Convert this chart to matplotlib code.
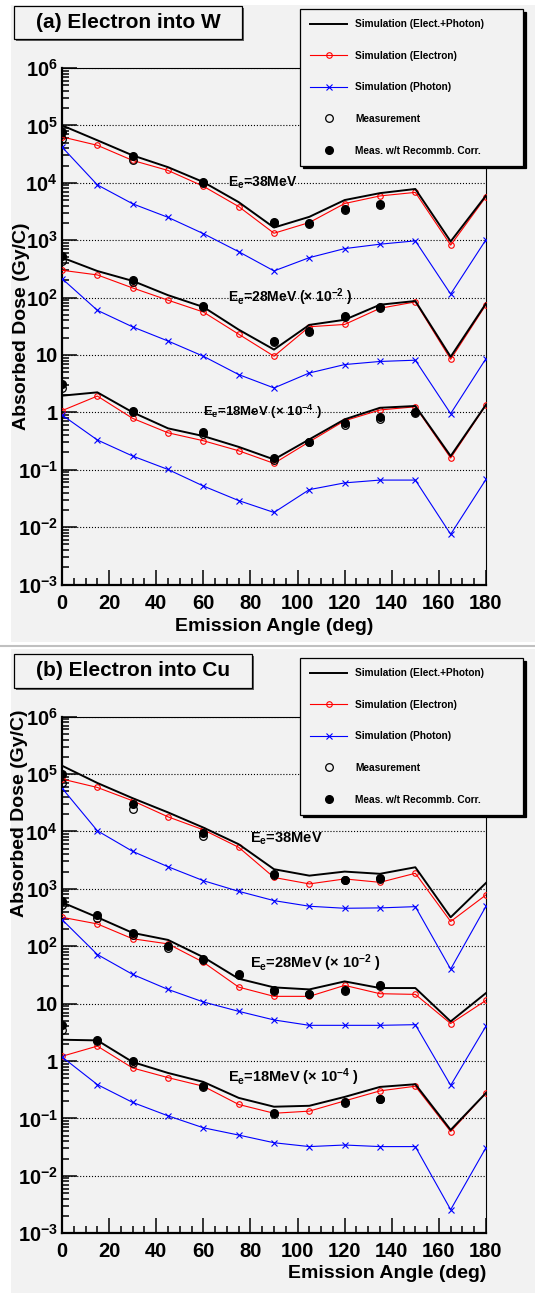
import matplotlib
matplotlib.use("Agg")
import matplotlib.pyplot as plt
from matplotlib.patches import Rectangle
from matplotlib.ticker import FixedLocator, FixedFormatter, LogLocator, MultipleLocator, NullFormatter

plt.rcParams['font.family'] = 'Liberation Sans'
plt.rcParams['font.weight'] = 'bold'
plt.rcParams['mathtext.fontset'] = 'custom'
plt.rcParams['mathtext.rm'] = 'Liberation Sans:bold'
plt.rcParams['mathtext.bf'] = 'Liberation Sans:bold'
plt.rcParams['mathtext.it'] = 'Liberation Sans:bold'
plt.rcParams['mathtext.default'] = 'bf'

# emission angles (deg)
angles = [0, 15, 30, 45, 60, 75, 90, 105, 120, 135, 150, 165, 180]

# ---- (a) electron into W ----
w38_total = [1.0e5, 5.5e4, 3.0e4, 1.87e4, 1.03e4, 4.6e3, 1.66e3, 2.55e3, 5.0e3, 6.6e3, 7.8e3, 950, 6.0e3]
w38_elec = [6.3e4, 4.5e4, 2.45e4, 1.64e4, 8.7e3, 3.85e3, 1.32e3, 2.03e3, 4.35e3, 5.9e3, 6.8e3, 820, 5.7e3]
w38_phot = [4.2e4, 9.2e3, 4.3e3, 2.5e3, 1.3e3, 630, 291, 496, 713, 851, 973, 115, 1.02e3]
w38_meas_ang = [0, 30, 60, 90, 105, 120, 135]
w38_meas = [5.8e4, 2.45e4, 9.8e3, 2.0e3, 1.95e3, 3.35e3, 4.1e3]
w38_corr = [7.6e4, 2.9e4, 1.02e4, 2.1e3, 2.03e3, 3.5e3, 4.25e3]

w28_total = [498, 290, 195, 110, 68.5, 27.6, 12.4, 33.4, 41, 75, 87, 9.3, 79]
w28_elec = [299, 248, 147, 90, 56, 23, 9.5, 31, 34, 65, 84, 8.4, 75]
w28_phot = [214, 60, 30.8, 17.5, 9.5, 4.55, 2.66, 4.85, 6.8, 7.7, 8.1, 0.95, 8.65]
w28_meas_ang = [0, 30, 60, 90, 105, 120, 135]
w28_meas = [434, 190, 68, 16.5, 25, 45, 65]
w28_corr = [525, 200, 71, 17.5, 26, 48, 68]

w18_total = [1.95, 2.23, 1.0, 0.526, 0.386, 0.25, 0.151, 0.338, 0.755, 1.2, 1.29, 0.173, 1.36]
w18_elec = [1.07, 1.92, 0.785, 0.44, 0.32, 0.214, 0.129, 0.307, 0.714, 1.1, 1.25, 0.16, 1.34]
w18_phot = [0.90, 0.33, 0.173, 0.101, 0.052, 0.029, 0.018, 0.045, 0.059, 0.066, 0.066, 0.0075, 0.068]
w18_meas_ang = [0, 30, 60, 90, 105, 120, 135, 150]
w18_meas = [2.7, 1.0, 0.42, 0.15, 0.30, 0.60, 0.78, 0.97]
w18_corr = [3.1, 1.07, 0.45, 0.157, 0.31, 0.64, 0.82, 1.02]

# ---- (b) electron into Cu ----
c38_total = [1.4e5, 7.0e4, 3.8e4, 2.15e4, 1.17e4, 6.0e3, 2.2e3, 1.7e3, 2.0e3, 1.83e3, 2.38e3, 320, 1.27e3]
c38_elec = [8.2e4, 5.85e4, 3.43e4, 1.8e4, 1.07e4, 5.3e3, 1.58e3, 1.22e3, 1.49e3, 1.3e3, 1.87e3, 270, 785]
c38_phot = [5.7e4, 1.03e4, 4.5e3, 2.43e3, 1.39e3, 906, 624, 498, 459, 466, 490, 40, 498]
c38_meas_ang = [0, 30, 60, 90, 120, 135]
c38_meas = [7.1e4, 2.46e4, 8.4e3, 1.75e3, 1.4e3, 1.48e3]
c38_corr = [1.02e5, 3.0e4, 9.4e3, 1.85e3, 1.45e3, 1.53e3]

c28_total = [583, 320, 171, 129, 64.5, 27.2, 19.2, 17.7, 24.4, 18.7, 18.7, 4.9, 15.3]
c28_elec = [320, 245, 135, 110, 52.7, 19.4, 13.4, 13.4, 20.8, 14.9, 14.5, 4.5, 11.4]
c28_phot = [292, 71.8, 32.3, 17.7, 10.7, 7.35, 5.2, 4.19, 4.19, 4.19, 4.3, 0.377, 4.07]
c28_meas_ang = [0, 15, 30, 45, 60, 75, 90, 105, 120, 135]
c28_meas = [525, 310, 160, 95, 57, 31, 16.5, 14.5, 16.8, 20.5]
c28_corr = [624, 352, 171, 100, 60, 32.3, 17.3, 14.9, 17.5, 21.4]

c18_total = [2.35, 2.29, 0.96, 0.62, 0.433, 0.228, 0.16, 0.166, 0.237, 0.354, 0.394, 0.063, 0.278]
c18_elec = [1.21, 1.82, 0.756, 0.514, 0.364, 0.175, 0.123, 0.134, 0.202, 0.302, 0.364, 0.059, 0.278]
c18_phot = [1.18, 0.389, 0.19, 0.111, 0.0687, 0.0513, 0.0377, 0.0323, 0.0344, 0.0323, 0.0323, 0.00257, 0.031]
c18_meas_ang = [0, 15, 30, 60, 90, 120, 135]
c18_meas = [3.5, 2.2, 0.92, 0.35, 0.118, 0.185, 0.215]
c18_corr = [4.17, 2.35, 0.99, 0.368, 0.122, 0.19, 0.222]

legend_labels = ['Simulation (Elect.+Photon)', 'Simulation (Electron)', 'Simulation (Photon)',
                 'Measurement', 'Meas. w/t Recommb. Corr.']
ytick_vals = [1e-3, 1e-2, 1e-1, 1, 10, 1e2, 1e3, 1e4, 1e5, 1e6]
ytick_text = [r'$10^{-3}$', r'$10^{-2}$', r'$10^{-1}$', '1', '10',
              r'$10^{2}$', r'$10^{3}$', r'$10^{4}$', r'$10^{5}$', r'$10^{6}$']

W, H = 535, 1293
BG = '#f2f2f2'


def fx(px):
    return px / W


def fy(py):
    return 1 - py / H


fig = plt.figure(figsize=(W / 100, H / 100), dpi=100)
fig.patch.set_facecolor('white')
# canvas backgrounds
fig.add_artist(Rectangle((fx(11), fy(642)), 1 - fx(11), fy(5) - fy(642), transform=fig.transFigure,
                         facecolor=BG, edgecolor='none', zorder=0))
fig.add_artist(Rectangle((fx(11), 0), 1 - fx(11), fy(649), transform=fig.transFigure,
                         facecolor=BG, edgecolor='none', zorder=0))
fig.add_artist(plt.Line2D([0, 1], [fy(646), fy(646)], transform=fig.transFigure, color='#c0c0c0', lw=1.5))


def draw_panel(top_px, sets, notes, title, title_box, legend_top, center_titles):
    ax = fig.add_axes([fx(62), fy(top_px + 516.5), fx(486) - fx(62), 516.5 / H])
    ax.set_facecolor(BG)
    hs = None
    for (tot, ele, pho, mang, meas, corr) in sets:
        l1, = ax.plot(angles, tot, color='black', lw=1.4, zorder=4)
        l2, = ax.plot(angles, ele, color='red', lw=0.8, marker='o', ms=4, mfc='none', mew=0.8, zorder=3)
        l3, = ax.plot(angles, pho, color='blue', lw=0.8, marker='x', ms=4, mew=0.8, zorder=3)
        l4, = ax.plot(mang, meas, ls='none', marker='o', ms=5.5, mfc='none', mec='black', mew=0.9, zorder=5)
        l5, = ax.plot(mang, corr, ls='none', marker='o', ms=5.5, color='black', zorder=6)
        if hs is None:
            hs = [l1, l2, l3, l4, l5]
    for (x, y, s, fs) in notes:
        ax.text(x, y, s, fontsize=fs, fontweight='bold', va='center', ha='left', zorder=7)

    ax.set_yscale('log')
    ax.set_xlim(0, 180)
    ax.set_ylim(1e-3, 1e6)
    ax.yaxis.set_major_locator(FixedLocator(ytick_vals))
    ax.yaxis.set_major_formatter(FixedFormatter(ytick_text))
    ax.yaxis.set_minor_locator(LogLocator(base=10, subs=range(2, 10), numticks=20))
    ax.yaxis.set_minor_formatter(NullFormatter())
    ax.xaxis.set_major_locator(MultipleLocator(20))
    ax.xaxis.set_minor_locator(MultipleLocator(5))
    ax.tick_params(which='both', direction='in', top=False, right=False, width=1.1)
    ax.tick_params(which='major', length=11)
    ax.tick_params(which='minor', length=5)
    ax.tick_params(axis='y', labelsize=14.5, pad=3)
    ax.tick_params(axis='x', labelsize=14.5, pad=6.5)
    for t in ax.get_xticklabels() + ax.get_yticklabels():
        t.set_fontweight('bold')
    ax.grid(True, axis='y', which='major', ls=':', color='black', lw=0.8)
    ax.spines['left'].set_linewidth(1.6)
    ax.spines['bottom'].set_linewidth(1.6)
    ax.spines['top'].set_linewidth(0.8)
    ax.spines['right'].set_linewidth(0.8)

    ax.set_xlabel('Emission Angle (deg)', fontsize=14, fontweight='bold')
    ax.set_ylabel('Absorbed Dose (Gy/C)', fontsize=14, fontweight='bold')
    if center_titles:
        ax.xaxis.set_label_coords(0.5, -0.065)
        ax.yaxis.set_label_coords(-0.075, 0.5)
    else:
        ax.xaxis.label.set_ha('right')
        ax.xaxis.set_label_coords(1.0, -0.062)
        ax.yaxis.label.set_ha('right')
        ax.yaxis.set_label_coords(-0.08, 1.013)

    leg = ax.legend(hs, legend_labels, loc='upper left', mode='expand',
                    bbox_to_anchor=(fx(300), fy(legend_top) - 0.2, fx(523) - fx(300), 0.2),
                    bbox_transform=fig.transFigure, borderaxespad=0,
                    prop={'weight': 'bold', 'size': 7.3}, numpoints=1, handlelength=3.65,
                    handletextpad=0.8, labelspacing=2.13, borderpad=1.0, fancybox=False,
                    framealpha=1, facecolor=BG, edgecolor='black',
                    shadow={'color': 'black', 'alpha': 1})
    leg.get_frame().set_linewidth(0.9)
    leg.set_zorder(10)

    x0, y0, x1, y1 = title_box
    fig.add_artist(Rectangle((fx(x0 + 2), fy(y1 + 2)), fx(x1) - fx(x0), fy(y0) - fy(y1),
                             transform=fig.transFigure, facecolor='#606060', edgecolor='none', zorder=8))
    fig.add_artist(Rectangle((fx(x0), fy(y1)), fx(x1) - fx(x0), fy(y0) - fy(y1),
                             transform=fig.transFigure, facecolor=BG, edgecolor='black', lw=0.9, zorder=9))
    fig.text(fx((x0 + x1) / 2), fy((y0 + y1) / 2), title, fontsize=15, fontweight='bold',
             ha='center', va='center', zorder=10)
    return ax


notes_a = [(70.5, 1e4, r'E$_{e}$=38MeV', 10),
           (70.5, 1e2, r'E$_{e}$=28MeV ($\times$ 10$^{-2}$ )', 10),
           (60, 1.0, r'E$_{e}$=18MeV ($\times$ 10$^{-4}$ )', 9.5)]
notes_b = [(79.8, 7.5e3, r'E$_{e}$=38MeV', 10.5),
           (79.8, 50, r'E$_{e}$=28MeV ($\times$ 10$^{-2}$ )', 10.5),
           (70.5, 0.53, r'E$_{e}$=18MeV ($\times$ 10$^{-4}$ )', 10.5)]

draw_panel(68, [(w38_total, w38_elec, w38_phot, w38_meas_ang, w38_meas, w38_corr),
                (w28_total, w28_elec, w28_phot, w28_meas_ang, w28_meas, w28_corr),
                (w18_total, w18_elec, w18_phot, w18_meas_ang, w18_meas, w18_corr)],
           notes_a, '(a) Electron into W', (14, 6, 242, 39), 9, True)
draw_panel(716.7, [(c38_total, c38_elec, c38_phot, c38_meas_ang, c38_meas, c38_corr),
                   (c28_total, c28_elec, c28_phot, c28_meas_ang, c28_meas, c28_corr),
                   (c18_total, c18_elec, c18_phot, c18_meas_ang, c18_meas, c18_corr)],
           notes_b, '(b) Electron into Cu', (14, 654, 252, 688), 658, False)

fig.savefig('out.png', dpi=100)
